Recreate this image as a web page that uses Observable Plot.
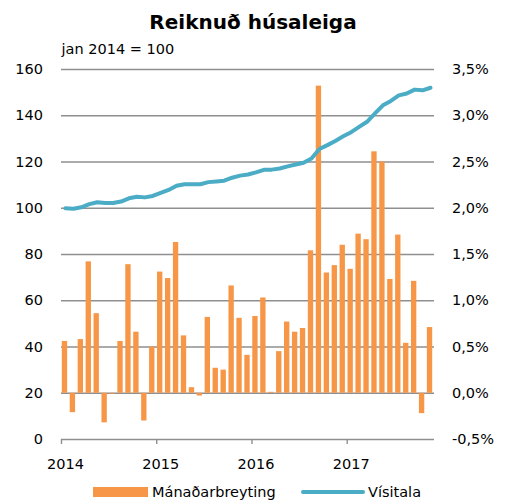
<!DOCTYPE html>
<html>
<head>
<meta charset="utf-8">
<script src="https://cdn.jsdelivr.net/npm/d3@7"></script>
<script src="https://cdn.jsdelivr.net/npm/@observablehq/plot@0.6"></script>
<style>
  body { margin: 0; background: #fff; }
  #wrap { position: relative; width: 506px; height: 500px; font-family: "DejaVu Sans", sans-serif; color: #000; }
  #title { position: absolute; top: 12px; left: 0; width: 506px; text-align: center; font-weight: bold; font-size: 20px; line-height: 20px; }
  #chart { position: absolute; top: 38px; left: 0; }
  .lg { position: absolute; font-size: 14.5px; line-height: 15px; top: 484.5px; white-space: nowrap; }
</style>
</head>
<body>
<div id="wrap">
  <div id="title">Reiknuð húsaleiga</div>
  <div id="chart"></div>
  <div style="position:absolute;left:93px;top:487px;width:55px;height:10px;background:#F79646"></div>
  <div class="lg" style="left:152px">Mánaðarbreyting</div>
  <div style="position:absolute;left:301px;top:490px;width:64px;height:3.5px;border-radius:2px;background:#4BACC6"></div>
  <div class="lg" style="left:368px">Vísitala</div>
</div>
<script>
// Monthly change (%), Jan 2014 – Nov 2017
const monthlyChange = [
  0.56, -0.21, 0.58, 1.42, 0.86, -0.32, -0.01, 0.56, 1.39, 0.66, -0.30, 0.50,
  1.31, 1.24, 1.63, 0.62, 0.06, -0.03, 0.82, 0.27, 0.25, 1.16, 0.81, 0.41,
  0.83, 1.03, 0.01, 0.45, 0.77, 0.66, 0.70, 1.54, 3.32, 1.30, 1.38, 1.60,
  1.34, 1.72, 1.66, 2.61, 2.50, 1.23, 1.71, 0.54, 1.21, -0.22, 0.71
];
// Index (jan 2014 = 100)
const indexValues = [
  100.0, 99.8, 100.4, 101.8, 102.6, 102.3, 102.3, 102.9, 104.3, 105.0, 104.7, 105.3,
  106.6, 107.9, 109.7, 110.4, 110.4, 110.4, 111.3, 111.6, 111.9, 113.2, 114.1, 114.6,
  115.5, 116.6, 116.7, 117.2, 118.1, 118.9, 119.7, 121.5, 125.6, 127.3, 129.1, 131.1,
  132.9, 135.2, 137.4, 141.0, 144.5, 146.4, 148.8, 149.6, 151.3, 151.0, 152.1
];
const years = ["2014", "2015", "2016", "2017"];
const leftTicks = [0, 20, 40, 60, 80, 100, 120, 140, 160];
const rightLabels = ["-0,5%", "0,0%", "0,5%", "1,0%", "1,5%", "2,0%", "2,5%", "3,0%", "3,5%"];
const subtitle = "jan 2014 = 100";

// right axis (%) expressed in left-axis units: 0% ↔ 20, 1% ↔ 40 units
const pctZero = 20, unitsPerPct = 40;

const rows = monthlyChange.map((c, i) => ({
  i, chg: c, idx: indexValues[i],
  base: pctZero, top: pctZero + c * unitsPerPct
}));
const yearTicks = years.map((y, k) => k * 12);

const grey = "#8f8f8f";
const chart = Plot.plot({
  width: 506,
  height: 442,
  marginTop: 31,
  marginBottom: 41,
  marginLeft: 61,
  marginRight: 72,
  style: { fontFamily: "DejaVu Sans, sans-serif", fontSize: "14.5px", color: "#000", background: "#fff", overflow: "visible" },
  x: { type: "linear", domain: [0, monthlyChange.length], axis: null },
  y: { domain: [0, 160], axis: null },
  marks: [
    Plot.gridY({ ticks: leftTicks.slice(1), stroke: grey, strokeOpacity: 1, strokeWidth: 1.4 }),
    Plot.rect(rows, { x1: d => d.i, x2: d => d.i + 1, y1: "base", y2: "top", fill: "#F79646", insetLeft: 0.8, insetRight: 1.8 }),
    Plot.ruleY([0], { stroke: grey, strokeWidth: 1.4 }),
    Plot.axisX({ ticks: yearTicks, tickSize: 5, stroke: grey, strokeWidth: 1.4, tickFormat: () => "" }),
    Plot.axisX({ ticks: yearTicks.map(t => t + 0.5), tickSize: 0, tickPadding: 19, tickFormat: d => years[Math.floor(d / 12)], label: null }),
    Plot.axisY({ anchor: "left", ticks: leftTicks, tickSize: 0, tickPadding: 18.5, tickFormat: d => String(d), label: null }),
    Plot.axisY({ anchor: "right", ticks: leftTicks, tickSize: 0, tickPadding: 17.5, tickFormat: d => rightLabels[leftTicks.indexOf(d)], label: null }),
    Plot.line(rows, { x: d => d.i + 0.5, y: "idx", stroke: "#4BACC6", strokeWidth: 4 }),
    Plot.text([subtitle], { text: d => d, frameAnchor: "top-left", textAnchor: "start", dy: -25.3, fontSize: 14.5, fill: "#000" })
  ]
});
document.getElementById("chart").appendChild(chart);
</script>
</body>
</html>
